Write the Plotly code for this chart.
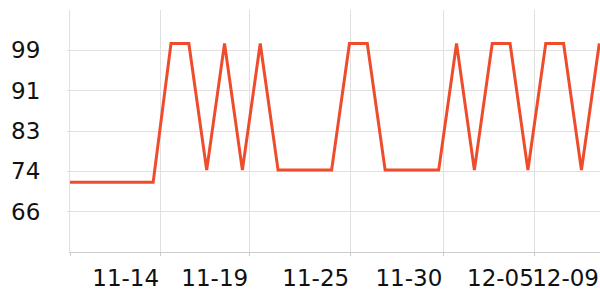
import plotly.graph_objects as go

# x positions (day offsets from the first reading) and readings
days = [0, 4.66, 5.66, 6.66, 7.66, 8.66, 9.66, 10.66, 11.66, 12.66, 13.66, 14.66,
        15.66, 16.66, 17.66, 18.66, 19.66, 20.66, 21.66, 22.66, 23.66, 24.66,
        25.66, 26.66, 27.66, 28.66, 29.66]
values = [72, 72, 100.4, 100.4, 74.5, 100.4, 74.5, 100.4, 74.5, 74.5, 74.5, 74.5,
          100.4, 100.4, 74.5, 74.5, 74.5, 74.5, 100.4, 74.5, 100.4, 100.4, 74.5,
          100.4, 100.4, 74.5, 100.4]

x_tick_pos = [0, 5.05, 10.04, 15.70, 20.92, 26.05, 29.70]
x_tick_labels = ["", "11-14", "11-19", "11-25", "11-30", "12-05", "12-09"]

y_tick_pos = [66, 74.25, 82.5, 90.75, 99]
y_tick_labels = ["66", "74", "83", "91", "99"]
y_range = [57.75, 107.25]
x_range = [0, 29.70]

LINE = "#ef4c2c"
GRID = "#e0e0e0"
AXIS = "#cccccc"

fig = go.Figure()
fig.add_trace(go.Scatter(x=days, y=values, mode="lines",
                         line=dict(color=LINE, width=3), hoverinfo="skip"))

fig.update_layout(
    width=600, height=300,
    margin=dict(l=70, r=0, t=10, b=48),
    paper_bgcolor="white", plot_bgcolor="white",
    showlegend=False,
    font=dict(family="DejaVu Sans", size=23, color="#111111"),
    xaxis=dict(range=x_range, tickvals=x_tick_pos, ticktext=x_tick_labels,
               showgrid=True, gridcolor=GRID, gridwidth=1, zeroline=False,
               showline=True, linecolor=AXIS, linewidth=1,
               ticks="outside", ticklen=3, tickcolor=AXIS, tickangle=0,
               ticklabelposition="outside left", ticklabelstandoff=5),
    yaxis=dict(range=y_range, tickvals=y_tick_pos, ticktext=y_tick_labels,
               showgrid=True, gridcolor=GRID, gridwidth=1, zeroline=False,
               showline=True, linecolor=GRID, linewidth=1,
               ticks="outside", ticklen=2, tickcolor=GRID,
               ticklabelstandoff=22),
)

fig.write_html("out.html")
